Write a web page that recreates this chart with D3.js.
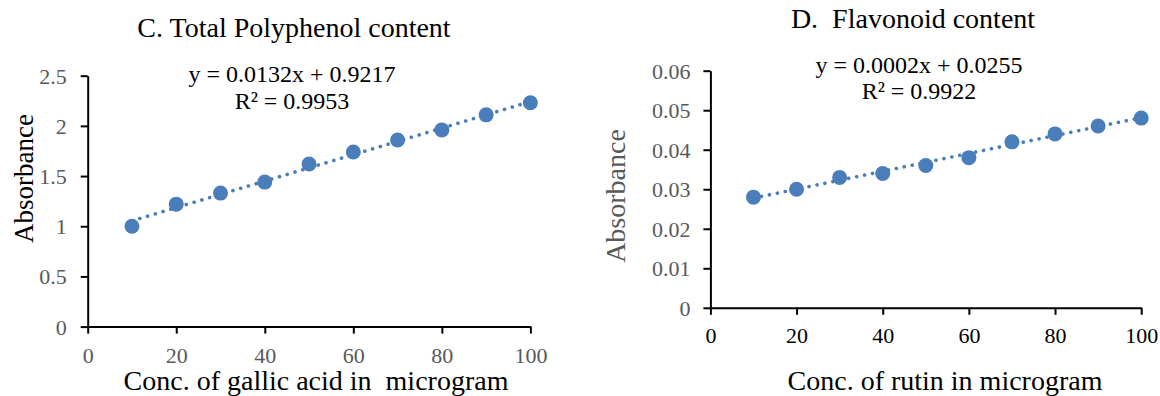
<!DOCTYPE html>
<html>
<head>
<meta charset="utf-8">
<script src="https://cdn.jsdelivr.net/npm/d3@7"></script>
<style>
  html, body { margin: 0; padding: 0; background: #fff; }
  svg { display: block; }
  text { font-family: "Liberation Serif", "Times New Roman", serif; }
</style>
</head>
<body>
<svg id="chart" width="1160" height="396"></svg>
<script>
// Calibration data: concentration (µg) vs absorbance
const concentrations = [10, 20, 30, 40, 50, 60, 70, 80, 90, 100];
const polyphenolAbs = [1.00, 1.22, 1.33, 1.44, 1.62, 1.74, 1.86, 1.96, 2.11, 2.23];
const flavonoidAbs = [0.028, 0.030, 0.033, 0.034, 0.036, 0.038, 0.042, 0.044, 0.046, 0.048];

// Linear trendline coefficients [slope, intercept, R²]
const polyphenolFit = [0.0132, 0.9217, 0.9953];
const flavonoidFit = [0.000226, 0.0255, 0.9922];

// Tick values
const xTicks = [0, 20, 40, 60, 80, 100];
const polyphenolYTicks = [0, 0.5, 1, 1.5, 2, 2.5];
const flavonoidYTicks = [0, 0.01, 0.02, 0.03, 0.04, 0.05, 0.06];

const svg = d3.select("#chart");
const markerColor = "#4A7EBB";
const grey = "#595959";

function fitLabel(fit) {
  return "y = " + fit[0].toFixed(4) + "x + " + fit[1].toFixed(4);
}

function drawPanel(cfg) {
  const x = d3.scaleLinear().domain([0, 100]).range(cfg.xRange);
  const y = d3.scaleLinear().domain(cfg.yDomain).range(cfg.yRange);
  const g = svg.append("g");

  // Axes
  const xAxis = d3.axisBottom(x).tickValues(xTicks).tickSize(7).tickSizeOuter(0)
    .tickPadding(cfg.xPad).tickFormat(d => String(d));
  const yAxis = d3.axisLeft(y).tickValues(cfg.yTicks).tickSize(7).tickSizeOuter(0)
    .tickPadding(cfg.yPad).tickFormat(d => String(d));

  const gx = g.append("g").attr("transform", `translate(0,${y(0)})`).call(xAxis);
  const gy = g.append("g").attr("transform", `translate(${x(0)},0)`).call(yAxis);

  [gx, gy].forEach(a => {
    a.select(".domain").attr("stroke", "#000").attr("stroke-width", 2);
    a.selectAll(".tick line").attr("stroke", "#000").attr("stroke-width", 2);
    a.selectAll(".tick text").attr("font-size", 22)
      .attr("font-family", '"Liberation Serif", "Times New Roman", serif');
  });
  gx.selectAll(".tick text").attr("fill", cfg.xTickColor);
  gy.selectAll(".tick text").attr("fill", grey).attr("dy", "0.34em");

  // Dotted trendline over the data range
  const xs = d3.extent(concentrations);
  const fit = cfg.fit;
  g.append("line")
    .attr("x1", x(xs[0])).attr("y1", y(fit[0] * xs[0] + fit[1]))
    .attr("x2", x(xs[1])).attr("y2", y(fit[0] * xs[1] + fit[1]))
    .attr("stroke", markerColor).attr("stroke-width", 3.6)
    .attr("stroke-linecap", "round").attr("stroke-dasharray", "0.1 8");

  // Markers
  g.selectAll("circle.pt").data(concentrations.map((c, i) => [c, cfg.values[i]]))
    .join("circle").attr("class", "pt")
    .attr("cx", d => x(d[0])).attr("cy", d => y(d[1])).attr("r", 7.5)
    .attr("fill", markerColor);

  // Title
  g.append("text").attr("x", cfg.titlePos[0]).attr("y", cfg.titlePos[1])
    .attr("text-anchor", "middle").attr("font-size", 28).attr("fill", "#000")
    .style("white-space", "pre").text(cfg.title);

  // Trendline equation and R²
  g.append("text").attr("x", cfg.eqPos[0]).attr("y", cfg.eqPos[1])
    .attr("text-anchor", "middle").attr("font-size", 24).attr("fill", "#000")
    .text(fitLabel(fit));
  g.append("text").attr("x", cfg.eqPos[0]).attr("y", cfg.eqPos[1] + cfg.eqGap)
    .attr("text-anchor", "middle").attr("font-size", 24).attr("fill", "#000")
    .text("R² = " + fit[2].toFixed(4));

  // Axis titles
  g.append("text").attr("x", cfg.xTitlePos[0]).attr("y", cfg.xTitlePos[1])
    .attr("text-anchor", "middle").attr("font-size", 28).attr("fill", "#000")
    .style("white-space", "pre").text(cfg.xTitle);
  g.append("text")
    .attr("transform", `translate(${cfg.yTitlePos[0]},${cfg.yTitlePos[1]}) rotate(-90)`)
    .attr("text-anchor", "middle").attr("font-size", cfg.yTitleSize).attr("fill", cfg.yTitleColor)
    .text("Absorbance");
}

drawPanel({
  xRange: [87.7, 530.4], yDomain: [0, 2.5], yRange: [326.6, 75.7],
  yTicks: polyphenolYTicks, values: polyphenolAbs, fit: polyphenolFit,
  xPad: 14, yPad: 14, xTickColor: grey,
  title: "C. Total Polyphenol content", titlePos: [294, 37],
  eqPos: [292, 82], eqGap: 27,
  xTitle: "Conc. of gallic acid in  microgram", xTitlePos: [316, 390],
  yTitlePos: [33, 178.5], yTitleSize: 27, yTitleColor: "#000"
});

drawPanel({
  xRange: [710.4, 1141.2], yDomain: [0, 0.06], yRange: [307.8, 70.7],
  yTicks: flavonoidYTicks, values: flavonoidAbs, fit: flavonoidFit,
  xPad: 13, yPad: 13, xTickColor: "#000",
  title: "D.  Flavonoid content", titlePos: [913, 28],
  eqPos: [919, 73], eqGap: 26,
  xTitle: "Conc. of rutin in microgram", xTitlePos: [945, 390],
  yTitlePos: [625, 196], yTitleSize: 28, yTitleColor: grey
});
</script>
</body>
</html>
